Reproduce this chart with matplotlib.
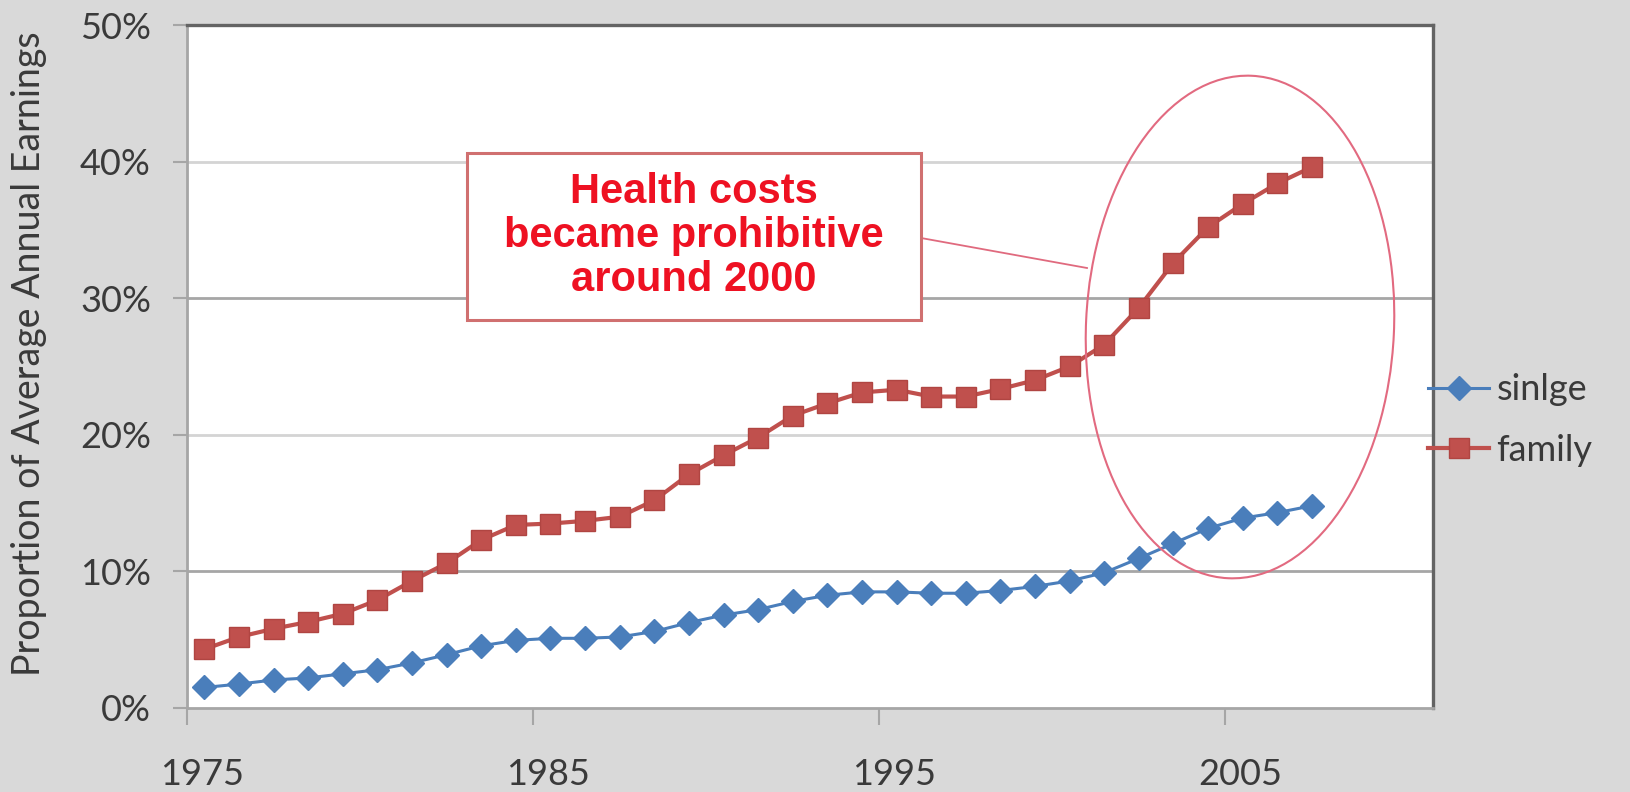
import matplotlib
matplotlib.use("Agg")
import matplotlib.pyplot as plt
import matplotlib.transforms as mtransforms
from matplotlib.patches import Ellipse, Rectangle
from matplotlib.lines import Line2D

# share of average annual earnings, one value per year
years = list(range(1975, 2008))
single = [1.5, 1.75, 2.05, 2.2, 2.5, 2.8, 3.3, 3.9, 4.55, 4.95, 5.1, 5.1, 5.2,
          5.6, 6.25, 6.8, 7.2, 7.8, 8.25, 8.5, 8.5, 8.4, 8.4, 8.6, 8.9, 9.3,
          9.9, 10.95, 12.05, 13.15, 13.9, 14.3, 14.8]
family = [4.3, 5.2, 5.8, 6.3, 6.9, 7.9, 9.3, 10.6, 12.3, 13.4, 13.5, 13.7, 14.0,
          15.2, 17.1, 18.5, 19.8, 21.4, 22.3, 23.1, 23.3, 22.8, 22.8, 23.35, 24.0,
          25.0, 26.6, 29.3, 32.6, 35.2, 36.9, 38.4, 39.6]
series_names = ["sinlge", "family"]
x_ticks = [1975, 1985, 1995, 2005]
y_ticks = [0, 10, 20, 30, 40, 50]
note = "Health costs\nbecame prohibitive\naround 2000"

BG = "#d9d9d9"
BLUE = "#4a7ebb"
RED = "#c0504d"
TXT = "#3a3a3a"

plt.rcParams["font.family"] = ["Lato", "DejaVu Sans"]

fig = plt.figure(figsize=(16.31, 7.92), dpi=100, facecolor=BG)
ax = fig.add_axes([0.1147, 0.1061, 0.7639, 0.8623])
ax.set_facecolor("white")

# points sit in the middle of each year
xs = [y + 0.5 for y in years]
ax.plot(xs, single, color=BLUE, lw=2.2, marker="D", ms=12, mec=BLUE,
        label=series_names[0], zorder=4)
ax.plot(xs, family, color=RED, lw=3.0, marker="s", ms=15, mec="#b04542",
        label=series_names[1], zorder=4)

ax.set_xlim(1975, 2011)
ax.set_ylim(0, 50)
ax.set_xticks(x_ticks)
ax.set_yticks(y_ticks)
ax.set_yticklabels([f"{v}%" for v in y_ticks])

# alternating gridline shades
for v in y_ticks[1:-1]:
    shade = "#a6a6a6" if (v // 10) % 2 == 1 else "#d4d4d4"
    ax.axhline(v, color=shade, lw=2.0, zorder=1)

for side in ["left", "bottom"]:
    ax.spines[side].set_color("#a6a6a6")
    ax.spines[side].set_linewidth(2.0)
for side in ["top", "right"]:
    ax.spines[side].set_color("#646464")
    ax.spines[side].set_linewidth(2.4)

ax.tick_params(axis="x", direction="out", length=12, width=1.5, color="#a6a6a6",
               pad=24, labelsize=26, labelcolor=TXT)
ax.tick_params(axis="y", direction="out", length=10, width=1.5, color="#a6a6a6",
               pad=16, labelsize=26, labelcolor=TXT)
shift = mtransforms.ScaledTranslation(0.15, 0, fig.dpi_scale_trans)
for lbl in ax.get_xticklabels():
    lbl.set_transform(lbl.get_transform() + shift)

fig.text(29 / 1631, 0.553, "Proportion of Average Annual Earnings", rotation=90,
         ha="center", va="center", fontsize=27, color=TXT)

# callout box, connector and ellipse in figure pixels
px = fig.dpi_scale_trans
box = Rectangle((4.67, (792 - 320) / 100), 4.54, 1.67, transform=px,
                facecolor="white", edgecolor="#d07070", lw=2.2, zorder=5)
fig.patches.append(box)
fig.text(6.94, (792 - 236) / 100, note, transform=px, ha="center", va="center",
         fontsize=30, fontweight="bold", color="#ee1122", linespacing=1.13,
         family=["Liberation Sans", "DejaVu Sans"], zorder=6)
fig.lines.append(Line2D([9.21, 10.87], [(792 - 238) / 100, (792 - 268) / 100],
                        transform=px, color="#e06a7e", lw=1.3))
ring = Ellipse((12.40, (792 - 327) / 100), 3.08, 5.03, angle=-2.7, transform=px,
               fill=False, edgecolor="#e26a80", lw=1.5, zorder=6)
fig.patches.append(ring)

leg = ax.legend(loc="center left", bbox_to_anchor=(1428 / 1631, 1 - 420 / 792),
                bbox_transform=fig.transFigure, frameon=False, fontsize=26,
                handlelength=1.7, handletextpad=0.2, labelspacing=0.75,
                borderpad=0, borderaxespad=0)
for t in leg.get_texts():
    t.set_color(TXT)

fig.savefig("out.png", dpi=100, facecolor=BG)
